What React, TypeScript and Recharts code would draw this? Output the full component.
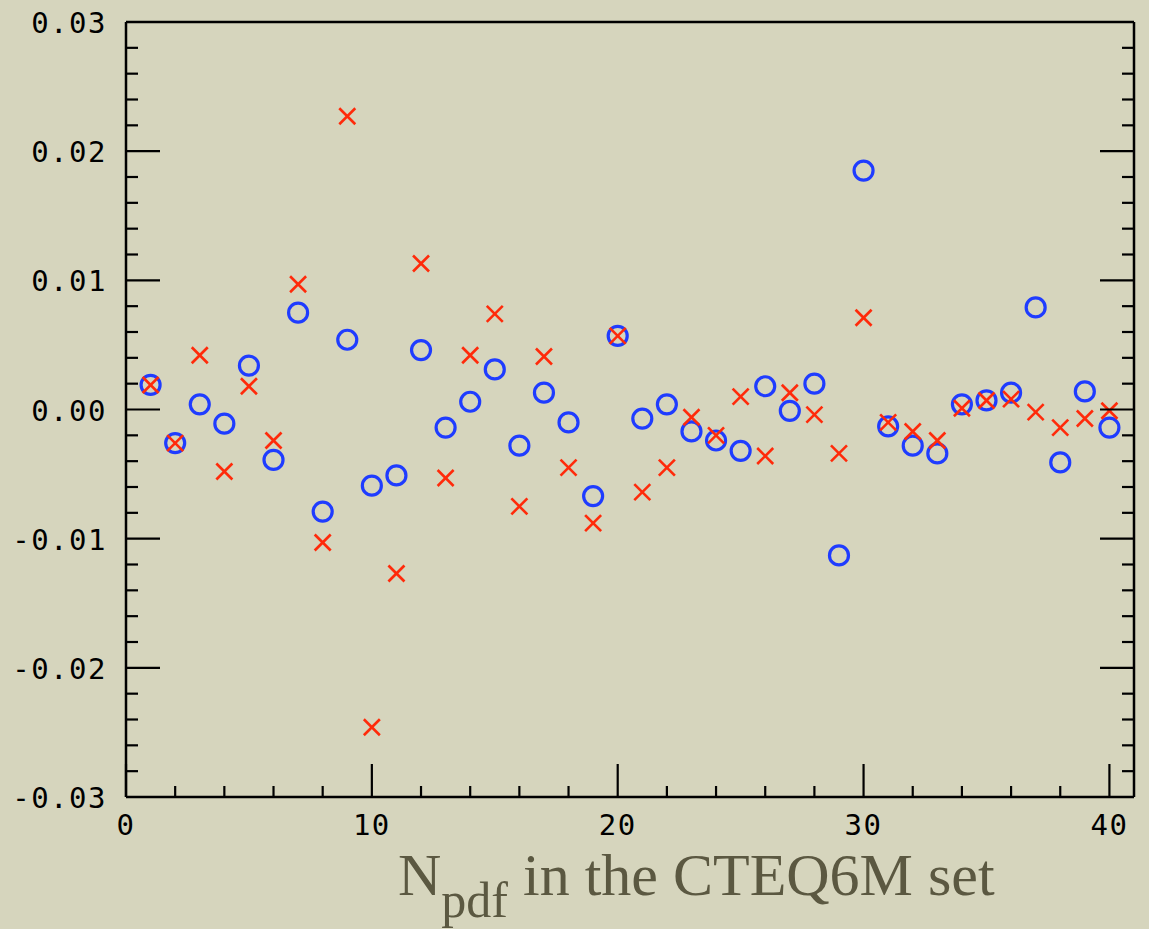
import { ScatterChart, Scatter, XAxis, YAxis } from "recharts"

const npdf = [
    1, 2, 3, 4, 5, 6, 7, 8, 9, 10, 11, 12, 13, 14, 15, 16, 17, 18, 19, 20,
    21, 22, 23, 24, 25, 26, 27, 28, 29, 30, 31, 32, 33, 34, 35, 36, 37, 38, 39, 40,
]

// blue circles
const circleValues = [
    0.0019, -0.0026, 0.0004, -0.0011, 0.0034, -0.0039, 0.0075, -0.0079, 0.0054, -0.0059,
    -0.0051, 0.0046, -0.0014, 0.0006, 0.0031, -0.0028, 0.0013, -0.001, -0.0067, 0.0057,
    -0.0007, 0.0004, -0.0017, -0.0024, -0.0032, 0.0018, -0.0001, 0.002, -0.0113, 0.0185,
    -0.0013, -0.0028, -0.0034, 0.0004, 0.0007, 0.0013, 0.0079, -0.0041, 0.0014, -0.0014,
]

// red crosses
const crossValues = [
    0.0019, -0.0026, 0.0042, -0.0048, 0.0018, -0.0024, 0.0097, -0.0103, 0.0227, -0.0246,
    -0.0127, 0.0113, -0.0053, 0.0042, 0.0074, -0.0075, 0.0041, -0.0045, -0.0088, 0.0057,
    -0.0064, -0.0045, -0.0006, -0.002, 0.001, -0.0036, 0.0013, -0.0004, -0.0034, 0.0071,
    -0.001, -0.0017, -0.0024, 0.0001, 0.0007, 0.0008, -0.0002, -0.0014, -0.0007, -0.0001,
]

const xTicks = [0, 2, 4, 6, 8, 10, 12, 14, 16, 18, 20, 22, 24, 26, 28, 30, 32, 34, 36, 38, 40]
const yTicks = [
    -0.03, -0.028, -0.026, -0.024, -0.022, -0.02, -0.018, -0.016, -0.014, -0.012,
    -0.01, -0.008, -0.006, -0.004, -0.002, 0, 0.002, 0.004, 0.006, 0.008,
    0.01, 0.012, 0.014, 0.016, 0.018, 0.02, 0.022, 0.024, 0.026, 0.028, 0.03,
]

const circleData = npdf.map((n, i) => ({ n, v: circleValues[i] }))
const crossData = npdf.map((n, i) => ({ n, v: crossValues[i] }))

const INK = "#000"
const tickFont = "'DejaVu Sans Mono', monospace"

const isMajorX = (v: number) => v % 10 === 0
const isMajorY = (v: number) => Math.abs(v * 100 - Math.round(v * 100)) < 1e-6

function BottomTick({ x, y, payload }: any) {
    const major = isMajorX(payload.value)
    return (
        <g>
            <line x1={x} y1={y} x2={x} y2={y - (major ? 33 : 11)} stroke={INK} strokeWidth={2.2} />
            {major && (
                <text x={x} y={y + 38} textAnchor="middle" fontSize={29} letterSpacing={1.5} fontFamily={tickFont} fill={INK}>
                    {payload.value}
                </text>
            )}
        </g>
    )
}

function TopTick({ x, y, payload }: any) {
    const major = isMajorX(payload.value)
    return <line x1={x} y1={y} x2={x} y2={y + (major ? 33 : 11)} stroke={INK} strokeWidth={2.2} />
}

function LeftTick({ x, y, payload }: any) {
    const major = isMajorY(payload.value)
    return (
        <g>
            <line x1={x} y1={y} x2={x + (major ? 34 : 12)} y2={y} stroke={INK} strokeWidth={2.2} />
            {major && (
                <text x={x - 19} y={y + 11} textAnchor="end" fontSize={29} letterSpacing={1.5} fontFamily={tickFont} fill={INK}>
                    {payload.value.toFixed(2)}
                </text>
            )}
        </g>
    )
}

function RightTick({ x, y, payload }: any) {
    const major = isMajorY(payload.value)
    return <line x1={x} y1={y} x2={x - (major ? 34 : 12)} y2={y} stroke={INK} strokeWidth={2.2} />
}

function CircleMark({ cx, cy }: any) {
    return <circle cx={cx} cy={cy} r={9.5} fill="none" stroke="#1f3cff" strokeWidth={3.2} />
}

function CrossMark({ cx, cy }: any) {
    const d = 8
    return (
        <g stroke="#ff2a0a" strokeWidth={2.6}>
            <line x1={cx - d} y1={cy - d} x2={cx + d} y2={cy + d} />
            <line x1={cx - d} y1={cy + d} x2={cx + d} y2={cy - d} />
        </g>
    )
}

export default function App() {
    return (
        <div
            style={{
                position: "absolute",
                left: 0,
                top: 0,
                width: 1149,
                height: 929,
                background: "#d6d5bd",
                overflow: "hidden",
            }}
        >
            <ScatterChart width={1149} height={929} margin={{ top: 0, right: 0, bottom: 0, left: 0 }}>
                <XAxis
                    xAxisId="bottom"
                    dataKey="n"
                    type="number"
                    domain={[0, 41]}
                    ticks={xTicks}
                    interval={0}
                    height={132}
                    tickSize={0}
                    tickMargin={0}
                    tick={<BottomTick />}
                    axisLine={{ stroke: INK, strokeWidth: 2.5 }}
                />
                <XAxis
                    xAxisId="top"
                    orientation="top"
                    type="number"
                    domain={[0, 41]}
                    ticks={xTicks}
                    interval={0}
                    height={22}
                    tickSize={0}
                    tickMargin={0}
                    tick={<TopTick />}
                    axisLine={{ stroke: INK, strokeWidth: 2.5 }}
                    allowDataOverflow
                />
                <YAxis
                    yAxisId="left"
                    dataKey="v"
                    type="number"
                    domain={[-0.03, 0.03]}
                    ticks={yTicks}
                    interval={0}
                    width={126}
                    tickSize={0}
                    tickMargin={0}
                    tick={<LeftTick />}
                    axisLine={{ stroke: INK, strokeWidth: 2.5 }}
                    allowDataOverflow
                />
                <YAxis
                    yAxisId="right"
                    orientation="right"
                    type="number"
                    domain={[-0.03, 0.03]}
                    ticks={yTicks}
                    interval={0}
                    width={15}
                    tickSize={0}
                    tickMargin={0}
                    tick={<RightTick />}
                    axisLine={{ stroke: INK, strokeWidth: 2.5 }}
                    allowDataOverflow
                />
                <Scatter
                    data={circleData}
                    xAxisId="bottom"
                    yAxisId="left"
                    shape={<CircleMark />}
                    isAnimationActive={false}
                />
                <Scatter
                    data={crossData}
                    xAxisId="bottom"
                    yAxisId="left"
                    shape={<CrossMark />}
                    isAnimationActive={false}
                />
            </ScatterChart>
            <div
                style={{
                    position: "absolute",
                    left: 398,
                    top: 840,
                    fontFamily: "'Liberation Serif', serif",
                    fontSize: 60,
                    color: "#5b5841",
                    whiteSpace: "nowrap",
                    lineHeight: "70px",
                }}
            >
                N
                <span style={{ fontSize: 50, position: "relative", top: 22 }}>pdf</span>
                <span> in the CTEQ6M set</span>
            </div>
        </div>
    )
}
